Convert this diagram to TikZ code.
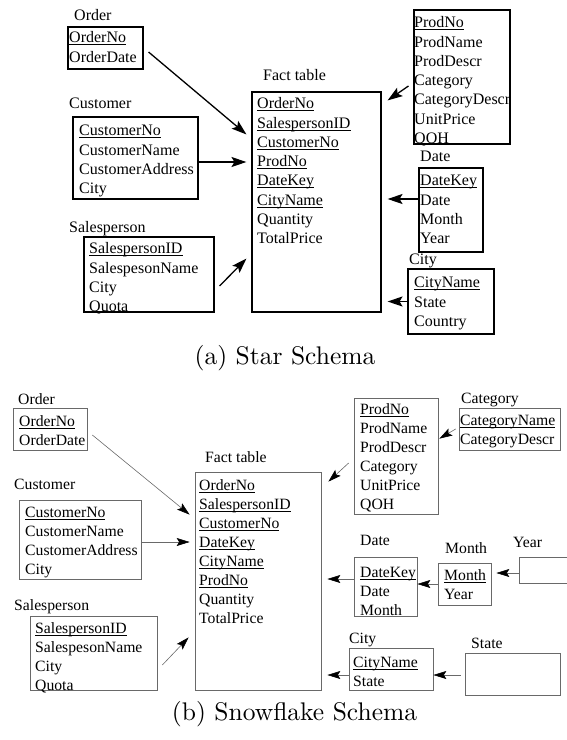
\documentclass[tikz,border=0pt]{standalone}
\usepackage{fontspec}
\setmainfont{Liberation Serif}
\newfontfamily\capfont{lmroman10-regular}[Extension=.otf]
\usepackage{xcolor}
\usepackage{tikz}
\usetikzlibrary{arrows.meta,calc,fit}
\definecolor{BoxGray}{RGB}{105,105,105}
\tikzstyle{tbl} = [rectangle, draw=black, line width=1.1pt, inner sep=0pt]
\tikzstyle{tblb} = [rectangle, draw=BoxGray, line width=0.7pt, inner sep=0pt]
\tikzstyle{rows} = [align=left, anchor=north west, inner sep=0pt, font=\fontsize{16}{19.3}\selectfont]
\tikzstyle{rowsb} = [align=left, anchor=north west, inner sep=0pt, font=\fontsize{15.7}{19}\selectfont]
\tikzstyle{title} = [anchor=base west, inner sep=0pt, font=\fontsize{16}{19.3}\selectfont]
\tikzstyle{titleb} = [anchor=base west, inner sep=0pt, font=\fontsize{15.7}{19}\selectfont]
\tikzstyle{caption} = [anchor=base, inner sep=0pt, font=\capfont\fontsize{25.5}{30}\selectfont]
\tikzstyle{arrow} = [line width=1.3pt, -{Stealth[length=15pt,width=10pt,inset=3pt]}]
\tikzstyle{arrowb} = [line width=0.6pt, draw=BoxGray, -{Stealth[length=13pt,width=8pt,inset=2.5pt,color=black]}]
\newcommand{\keyfld}[1]{\setbox0\hbox{#1}\rlap{\rule[-2.2pt]{\wd0}{0.7pt}}\box0}

\begin{document}
\begin{tikzpicture}[x=1pt, y=-1pt]
\useasboundingbox (0,0) rectangle (566,740);

% (a) Star schema: tables
\node[title] (orderT) at (74,20.5) {Order};
\node[tbl, fit={(68,27) (143,69)}] (order) {};
\node[rows] (orderR) at (69,29) {\strut\keyfld{OrderNo}\\OrderDate};

\node[title] (custT) at (69,108.5) {Customer};
\node[tbl, fit={(73,117) (198,199)}] (cust) {};
\node[rows] (custR) at (79,122) {\strut\keyfld{CustomerNo}\\CustomerName\\CustomerAddress\\City};

\node[title] (salesT) at (69,232.5) {Salesperson};
\node[tbl, fit={(84,237) (214,312)}] (sales) {};
\node[rows] (salesR) at (89,240) {\strut\keyfld{SalespersonID}\\SalespesonName\\City\\Quota};

\node[title] (factT) at (263,80.5) {Fact table};
\node[tbl, fit={(252,92) (381,312)}] (fact) {};
\node[rows] (factR) at (257,95) {\strut\keyfld{OrderNo}\\\keyfld{SalespersonID}\\\keyfld{CustomerNo}\\\keyfld{ProdNo}\\\keyfld{DateKey}\\\keyfld{CityName}\\Quantity\\TotalPrice};

\node[tbl, fit={(414,10) (510,144)}] (prod) {};
\node[rows] (prodR) at (414,14) {\strut\keyfld{ProdNo}\\ProdName\\ProdDescr\\Category\\CategoryDescr\\UnitPrice\\QOH};

\node[title] (dateT) at (420,161.5) {Date};
\node[tbl, fit={(419,168) (483,252)}] (date) {};
\node[rows] (dateR) at (420,172) {\strut\keyfld{DateKey}\\Date\\Month\\Year};

\node[title] (cityT) at (409,264.5) {City};
\node[tbl, fit={(408,269) (494,334)}] (city) {};
\node[rows] (cityR) at (414,274) {\strut\keyfld{CityName}\\State\\Country};

% (a) Star schema: links
\draw [arrow] ($(order.east)+(5,4)$) -- ($(fact.north west)+(-5,43)$);
\draw [arrow] ($(cust.east)+(0,4)$) -- ($(fact.west |- cust.east)+(-5,4)$);
\draw [arrow] ($(sales.east)+(5,11.5)$) -- ($(fact.south west)+(-5,-54)$);
\draw [arrow] ($(prod.west)+(-5,9)$) -- ($(fact.north east)+(6,9)$);
\draw [arrow] ($(date.west)+(0,-11)$) -- ($(fact.east |- date.west)+(6,-11)$);
\draw [arrow] (city.west) -- ($(fact.east |- city.west)+(6,0)$);

\node[caption] (capA) at (285,364) {(a) Star Schema};

% (b) Snowflake schema: tables
\node[titleb] (order2T) at (18,404.5) {Order};
\node[tblb, fit={(13,408) (87,450)}] (order2) {};
\node[rowsb] (order2R) at (19,413) {\strut\keyfld{OrderNo}\\OrderDate};

\node[titleb] (cust2T) at (14,489.5) {Customer};
\node[tblb, fit={(19,500) (141,579)}] (cust2) {};
\node[rowsb] (cust2R) at (25,504) {\strut\keyfld{CustomerNo}\\CustomerName\\CustomerAddress\\City};

\node[titleb] (sales2T) at (14,610.5) {Salesperson};
\node[tblb, fit={(30,616) (157,690)}] (sales2) {};
\node[rowsb] (sales2R) at (35,620) {\strut\keyfld{SalespersonID}\\SalespesonName\\City\\Quota};

\node[titleb] (fact2T) at (205,462.5) {Fact table};
\node[tblb, fit={(195,472) (321,690)}] (fact2) {};
\node[rowsb] (fact2R) at (199,477) {\strut\keyfld{OrderNo}\\\keyfld{SalespersonID}\\\keyfld{CustomerNo}\\\keyfld{DateKey}\\\keyfld{CityName}\\\keyfld{ProdNo}\\Quantity\\TotalPrice};

\node[tblb, fit={(354,398) (438,514)}] (prod2) {};
\node[rowsb] (prod2R) at (360,401) {\strut\keyfld{ProdNo}\\ProdName\\ProdDescr\\Category\\UnitPrice\\QOH};

\node[titleb] (catT) at (461,403.5) {Category};
\node[tblb, fit={(459,408) (560,450)}] (cat) {};
\node[rowsb] (catR) at (460,412) {\strut\keyfld{CategoryName}\\CategoryDescr};

\node[titleb] (date2T) at (360,545.5) {Date};
\node[tblb, fit={(354,557) (417,616)}] (date2) {};
\node[rowsb] (date2R) at (360,564) {\strut\keyfld{DateKey}\\Date\\Month};

\node[titleb] (monthT) at (445,553.5) {Month};
\node[tblb, fit={(438,563) (491,605)}] (month) {};
\node[rowsb] (monthR) at (444,567) {\strut\keyfld{Month}\\Year};

\node[titleb] (yearT) at (513,547.5) {Year};
\node[tblb, fit={(519,557) (570,583)}] (year) {};

\node[titleb] (city2T) at (349,643.5) {City};
\node[tblb, fit={(349,648) (433,690)}] (city2) {};
\node[rowsb] (city2R) at (353,654) {\strut\keyfld{CityName}\\State};

\node[titleb] (stateT) at (471,648.5) {State};
\node[tblb, fit={(465,653) (560,695)}] (state) {};

% (b) Snowflake schema: links
\draw [arrowb] ($(order2.east)+(5,6)$) -- ($(fact2.north west)+(-5,43)$);
\draw [arrowb] ($(cust2.east)+(0,2.5)$) -- ($(fact2.west |- cust2.east)+(-5,2.5)$);
\draw [arrowb] ($(sales2.east)+(5,12)$) -- ($(fact2.south west)+(-6,-53)$);
\draw [arrowb] ($(prod2.west)+(-5,7)$) -- ($(fact2.north east)+(7,10)$);
\draw [arrowb] ($(cat.west)+(-3,0)$) -- ($(prod2.north east)+(1,41)$);
\draw [arrowb] ($(date2.west)+(0,-7.5)$) -- ($(fact2.east |- date2.west)+(6,-7.5)$);
\draw [arrowb] (month.west) -- (date2.east |- month.west);
\draw [arrowb] ($(year.west)+(0,3)$) -- ($(month.east |- year.west)+(5,3)$);
\draw [arrowb] ($(city2.west)+(0,6)$) -- ($(fact2.east |- city2.west)+(6,6)$);
\draw [arrowb] ($(state.west)+(-4,1)$) -- ($(city2.east |- state.west)+(0,1)$);

\node[caption] (capB) at (294.5,720) {(b) Snowflake Schema};

\end{tikzpicture}
\end{document}
